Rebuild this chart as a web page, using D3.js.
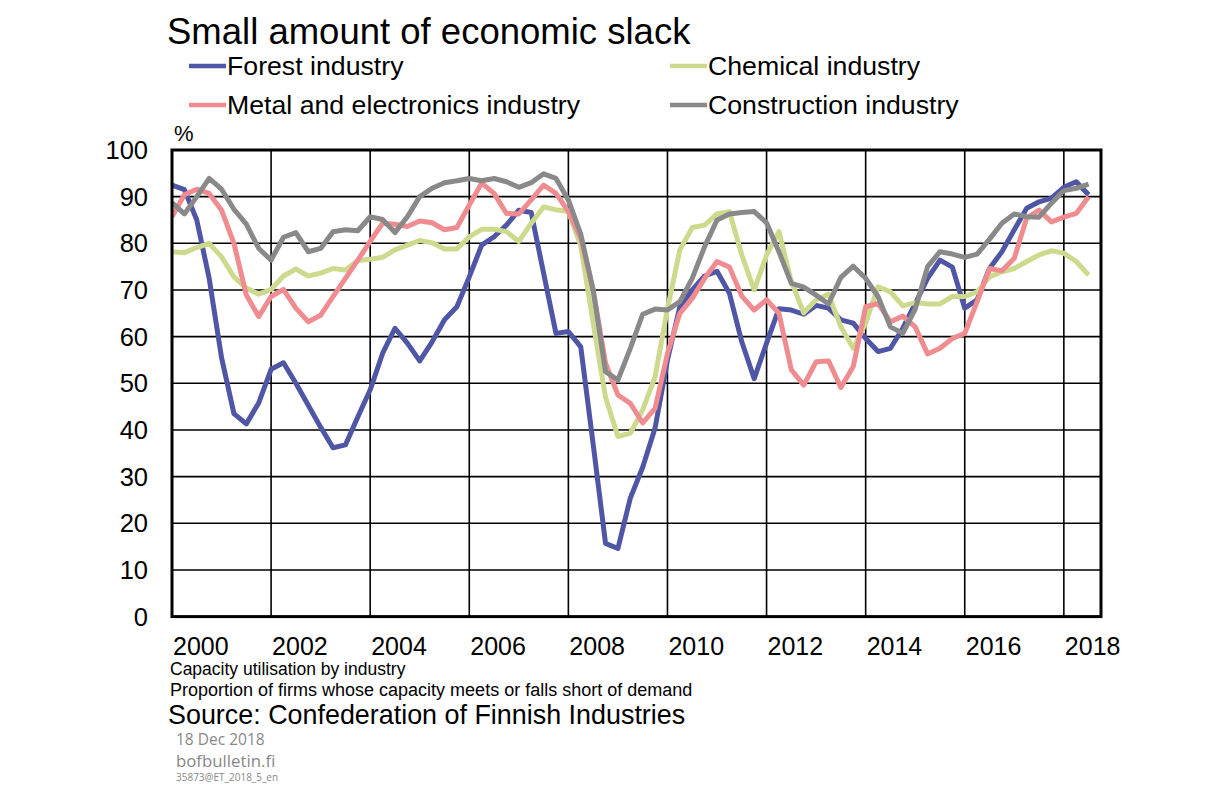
<!DOCTYPE html>
<html><head><meta charset="utf-8">
<script src="https://cdn.jsdelivr.net/npm/d3@7"></script>
<style>body{margin:0;background:#fff;}svg{display:block;font-family:"Liberation Sans",Arial,sans-serif;}</style>
</head><body><svg id="c" width="1220" height="798"></svg>
<script>
const startYear = 2000;
const yearTicks = [2000, 2002, 2004, 2006, 2008, 2010, 2012, 2014, 2016, 2018];
const yTicks = [0, 10, 20, 30, 40, 50, 60, 70, 80, 90, 100];
const seriesNames = ["Forest industry", "Chemical industry", "Metal and electronics industry", "Construction industry"];
const seriesColors = ["#4f56a6", "#cdda8d", "#f08c90", "#898989"];

// Quarterly values, 2000 Q1 ... 2018 Q3
const forest = [92.5,91.5,85,72.5,55.5,43.5,41.3,45.8,53,54.4,50,45.3,40.6,36.2,36.8,42.8,48.6,56.4,61.8,58.6,
  54.8,58.9,63.6,66.4,72.8,79.6,81.4,83.9,87.1,86.6,73.6,60.7,61.1,57.8,37,15.7,14.6,25.4,32,40.4,
  55,66.4,70,73,74,69.3,58.9,51,58.6,66,65.7,64.8,66.7,66.1,63.6,62.9,59.6,56.8,57.5,61.8,
  67.1,72.5,76.4,74.9,66.1,67.9,74.6,78.2,82.9,87.5,88.9,89.7,92,93.2,90.4];
const chemical = [78.2,78,79.1,80,77.1,72.8,70.4,69.1,70.1,73,74.5,73,73.6,74.6,74.3,76.3,76.6,77,78.6,79.6,
  80.6,80.1,78.8,78.8,81.4,83,83,82.5,80.4,84.3,87.8,87.2,86.8,79.5,63,47,38.6,39.3,44.3,51.4,
  66,78.6,83.4,83.9,86.3,86.8,77.5,70,77.5,82.5,71.8,65.1,67.9,69.1,62.1,57.5,62.9,70.7,69.6,66.6,
  67.3,67,67,68.6,68.6,69.6,72.8,73.9,74.6,76.1,77.5,78.4,77.9,76.1,73.2];
const metal = [85.7,90.4,91.6,90.7,87.1,80,68.9,64.3,68.6,70.1,66.1,63.2,64.6,68.6,72.5,76.4,80.4,84.3,84.1,83.6,
  84.8,84.4,82.9,83.4,88.2,92.9,90.7,86.4,86.3,89.3,92.5,90.7,86.8,81.1,70,54.3,47.5,45.7,41.5,44.6,
  56.4,65,68.2,72.5,76.1,74.9,68.7,65.7,67.9,65,52.9,49.6,54.6,54.8,49.1,53.6,66.4,67.1,63.2,64.4,
  62.1,56.3,57.5,59.6,60.7,67.5,74.6,74.1,76.8,85.4,87.1,84.6,85.6,86.4,90];
const construction = [88.7,86.3,90,93.9,91.6,87.3,84.1,78.9,76.4,81.3,82.3,78.2,78.9,82.5,82.9,82.7,85.7,85.1,82.3,85.7,
  90,91.8,93,93.4,93.9,93.4,93.9,93.2,92,93,94.9,93.9,89.3,82,70,52.5,50.7,57.5,64.8,65.9,
  65.7,67.5,72.5,79.3,85,86.3,86.6,86.8,84.4,78.2,71.4,70.6,68.9,67,72.7,75.1,72.5,68.6,62.1,60.7,
  65.9,75,78.2,77.7,77,77.7,80.9,84.3,86.3,85.7,85.6,88.6,91.3,91.8,92.7];
const seriesValues = [forest, chemical, metal, construction];

(function () {
const svg = d3.select("#c");
const pL = 172, pR = 1101, pT = 150, pB = 616.6;
const x = d3.scaleLinear().domain([2000, 2018.75]).range([pL, pR]);
const y = d3.scaleLinear().domain([0, 100]).range([pB, pT]);

// title
svg.append("text").attr("x", 167).attr("y", 44).attr("font-size", 36.5).attr("fill", "#000").text("Small amount of economic slack");

// legend
const legendPos = [[189, 66], [670, 66], [189, 105], [670, 105]];
seriesNames.forEach((n, i) => {
  const [lx, ly] = legendPos[i];
  svg.append("line").attr("x1", lx).attr("x2", lx + 37).attr("y1", ly).attr("y2", ly)
    .attr("stroke", seriesColors[i]).attr("stroke-width", 4.5);
  svg.append("text").attr("x", lx + 38).attr("y", ly + 9).attr("font-size", 26.7).text(n);
});

// % label
svg.append("text").attr("x", 174).attr("y", 141).attr("font-size", 22).text("%");

// grid
const g = svg.append("g");
g.selectAll(".hg").data(yTicks.filter(d => d > 0 && d < 100)).join("line")
  .attr("x1", pL).attr("x2", pR).attr("y1", d => y(d)).attr("y2", d => y(d))
  .attr("stroke", "#000").attr("stroke-width", 1.6);
g.selectAll(".vg").data(yearTicks.filter(d => d > 2000)).join("line")
  .attr("x1", d => x(d)).attr("x2", d => x(d)).attr("y1", pT).attr("y2", pB)
  .attr("stroke", "#000").attr("stroke-width", 1.6);

// y labels
svg.selectAll(".yl").data(yTicks).join("text")
  .attr("x", 148).attr("y", d => y(d) + 9).attr("text-anchor", "end").attr("font-size", 25.5).text(d => d);
// x labels
svg.selectAll(".xl").data(yearTicks).join("text")
  .attr("x", d => x(d) + 1).attr("y", 655).attr("font-size", 25).text(d => d);

// lines
const line = d3.line().x((d, i) => x(startYear + i / 4)).y(d => y(d));
svg.append("clipPath").attr("id", "pc").append("rect")
  .attr("x", pL).attr("y", pT - 5).attr("width", pR - pL).attr("height", pB - pT + 5);
const lg = svg.append("g").attr("clip-path", "url(#pc)");
seriesValues.forEach((vals, i) => {
  lg.append("path").datum(vals).attr("d", line).attr("fill", "none")
    .attr("stroke", seriesColors[i]).attr("stroke-width", 5).attr("stroke-linejoin", "round");
});

// frame
svg.append("rect").attr("x", pL).attr("y", pT).attr("width", pR - pL).attr("height", pB - pT)
  .attr("fill", "none").attr("stroke", "#000").attr("stroke-width", 3);

// footer
svg.append("text").attr("x", 170).attr("y", 675).attr("font-size", 17.5).text("Capacity utilisation by industry");
svg.append("text").attr("x", 170).attr("y", 696).attr("font-size", 18).text("Proportion of firms whose capacity meets or falls short of demand");
svg.append("text").attr("x", 168).attr("y", 724).attr("font-size", 26.9).text("Source: Confederation of Finnish Industries");
const foot = "'Liberation Sans Narrow','Open Sans',sans-serif";
svg.append("text").attr("x", 176).attr("y", 745).attr("font-size", 15.5).attr("fill", "#888").style("font-family", foot).text("18 Dec 2018");
svg.append("text").attr("x", 176).attr("y", 767).attr("font-size", 16.8).attr("fill", "#888").style("font-family", foot).text("bofbulletin.fi");
svg.append("text").attr("x", 176).attr("y", 781).attr("font-size", 10).attr("fill", "#888").style("font-family", foot).text("35873@ET_2018_5_en");
})();
</script></body></html>
